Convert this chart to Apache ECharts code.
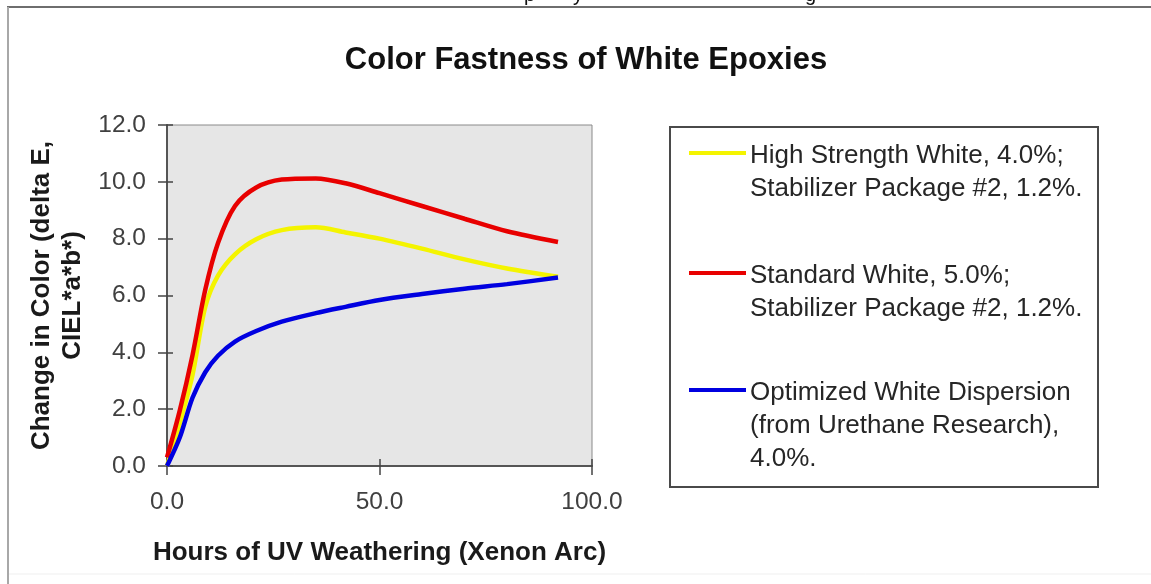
<!DOCTYPE html>
<html>
<head>
<meta charset="utf-8">
<title>Color Fastness of White Epoxies</title>
<script src="https://cdn.jsdelivr.net/npm/echarts@6/dist/echarts.min.js"></script>
<style>
  html, body { margin: 0; padding: 0; background: #ffffff; }
  #chart { width: 1151px; height: 584px; }
</style>
</head>
<body>
<div id="chart"></div>
<script>
// Hours of xenon-arc UV exposure at which each curve is read
const hours = [0, 3, 6, 9, 12, 16, 21, 27, 35, 42, 50, 60, 70, 80, 92];

// Change in colour (delta E, CIE L*a*b*) for each formulation
const highStrengthWhite = [0.0, 1.5, 3.2, 5.6, 6.7, 7.45, 7.98, 8.3, 8.4, 8.22, 8.0, 7.65, 7.27, 6.95, 6.66];
const standardWhite     = [0.3, 1.95, 3.9, 6.2, 7.85, 9.15, 9.8, 10.08, 10.12, 9.95, 9.6, 9.15, 8.7, 8.26, 7.88];
const optimizedWhite    = [0.0, 1.0, 2.4, 3.3, 3.88, 4.38, 4.75, 5.08, 5.38, 5.6, 5.84, 6.05, 6.24, 6.4, 6.63];

const seriesNames = [
  'High Strength White, 4.0%; Stabilizer Package #2, 1.2%.',
  'Standard White, 5.0%; Stabilizer Package #2, 1.2%.',
  'Optimized White Dispersion (from Urethane Research), 4.0%.'
];
// Wrapped legend captions
const legendLines = [
  ['High Strength White, 4.0%;', 'Stabilizer Package #2, 1.2%.'],
  ['Standard White, 5.0%;', 'Stabilizer Package #2, 1.2%.'],
  ['Optimized White Dispersion', '(from Urethane Research),', '4.0%.']
];
const seriesValues = [highStrengthWhite, standardWhite, optimizedWhite];
const seriesColors = ['#f4f400', '#e80000', '#0000e0'];

const yTicks = { min: 0, max: 12, interval: 2 };
const xTicks = { min: 0, max: 100, interval: 50 };

const chart = echarts.init(document.getElementById('chart'), null, { renderer: 'canvas' });

const font = 'Liberation Sans, Arial, sans-serif';
const tickColor = '#444';
const labelColor = '#404040';

const series = seriesValues.map((vals, i) => ({
  name: seriesNames[i],
  type: 'line',
  data: hours.map((h, k) => [h, vals[k]]),
  smooth: 0.3,
  showSymbol: false,
  symbol: 'none',
  lineStyle: { color: seriesColors[i], width: 4.5 },
  itemStyle: { color: seriesColors[i] },
  z: 3 + i
}));

// Legend box drawn as graphic elements
const legendBox = { x: 670, y: 127, w: 428, h: 360 };
const legendRowY = [153, 273, 390];
const legendChildren = [{
  type: 'rect',
  shape: { x: legendBox.x, y: legendBox.y, width: legendBox.w, height: legendBox.h },
  style: { fill: '#ffffff', stroke: '#4a4a4a', lineWidth: 2 }
}];
legendLines.forEach((lines, i) => {
  legendChildren.push({
    type: 'line',
    shape: { x1: 689, y1: legendRowY[i], x2: 746, y2: legendRowY[i] },
    style: { stroke: seriesColors[i], lineWidth: 4 }
  });
  legendChildren.push({
    type: 'text',
    x: 750,
    y: legendRowY[i] - 14,
    style: {
      text: lines.join('\n'),
      font: '26px ' + font,
      fill: '#262626',
      lineHeight: 33,
      verticalAlign: 'top',
      align: 'left'
    }
  });
});

const option = {
  backgroundColor: '#ffffff',
  animation: false,
  title: {
    text: 'Color Fastness of White Epoxies',
    left: 581,
    textAlign: 'center',
    top: 40,
    textStyle: { fontFamily: font, fontSize: 31, fontWeight: 'bold', color: '#111' }
  },
  grid: {
    left: 167, top: 125, right: 559, bottom: 118,
    show: true,
    backgroundColor: '#e6e6e6',
    borderColor: '#8a8a8a',
    borderWidth: 1
  },
  xAxis: [{
    type: 'value',
    min: xTicks.min, max: xTicks.max, interval: xTicks.interval,
    name: 'Hours of UV Weathering (Xenon Arc)',
    nameLocation: 'middle',
    nameGap: 74,
    nameTextStyle: { fontFamily: font, fontSize: 26, fontWeight: 'bold', color: '#1a1a1a' },
    axisLine: { show: true, lineStyle: { color: '#555', width: 2 } },
    axisTick: { show: true, length: 9, lineStyle: { color: tickColor, width: 1.5 } },
    axisLabel: {
      margin: 24, fontFamily: font, fontSize: 24.5, color: labelColor,
      formatter: v => v.toFixed(1)
    },
    splitLine: { show: false }
  }, {
    type: 'value',
    position: 'bottom',
    min: xTicks.min, max: xTicks.max, interval: xTicks.interval,
    axisLine: { show: false },
    axisTick: { show: true, inside: true, length: 7, lineStyle: { color: tickColor, width: 1.5 } },
    axisLabel: { show: false },
    splitLine: { show: false }
  }],
  yAxis: [{
    type: 'value',
    min: yTicks.min, max: yTicks.max, interval: yTicks.interval,
    name: 'Change in Color (delta E,\nCIEL*a*b*)',
    nameLocation: 'middle',
    nameRotate: 90,
    nameGap: 79,
    nameTextStyle: {
      fontFamily: font, fontSize: 26, fontWeight: 'bold', color: '#1a1a1a',
      lineHeight: 31, align: 'center'
    },
    axisLine: { show: true, lineStyle: { color: '#555', width: 2 } },
    axisTick: { show: true, length: 9, lineStyle: { color: tickColor, width: 1.5 } },
    axisLabel: {
      margin: 21, fontFamily: font, fontSize: 24.5, color: labelColor,
      formatter: v => v.toFixed(1)
    },
    splitLine: { show: false }
  }, {
    type: 'value',
    position: 'left',
    min: yTicks.min, max: yTicks.max, interval: yTicks.interval,
    axisLine: { show: false },
    axisTick: { show: true, inside: true, length: 6, lineStyle: { color: tickColor, width: 1.5 } },
    axisLabel: { show: false },
    splitLine: { show: false }
  }],
  series: series,
  graphic: [
    // page frame around the chart
    { type: 'line', shape: { x1: 7, y1: 7, x2: 1151, y2: 7 }, style: { stroke: '#6e6e6e', lineWidth: 2 }, z: 10 },
    { type: 'line', shape: { x1: 8, y1: 7, x2: 8, y2: 584 }, style: { stroke: '#a8a8a8', lineWidth: 2 }, z: 10 },
    { type: 'line', shape: { x1: 9, y1: 574, x2: 1151, y2: 574 }, style: { stroke: '#efefef', lineWidth: 1 }, z: 10 },
    // descenders of the caption line running off the top edge
    { type: 'text', x: 524, y: 5, style: { text: 'p', font: '20px ' + font, fill: '#111', verticalAlign: 'bottom' }, z: 10 },
    { type: 'text', x: 573, y: 5, style: { text: 'y', font: '20px ' + font, fill: '#111', verticalAlign: 'bottom' }, z: 10 },
    { type: 'text', x: 805, y: 5, style: { text: 'g', font: '20px ' + font, fill: '#111', verticalAlign: 'bottom' }, z: 10 },
    { type: 'group', children: legendChildren, z: 10 }
  ]
};

chart.setOption(option);
</script>
</body>
</html>
